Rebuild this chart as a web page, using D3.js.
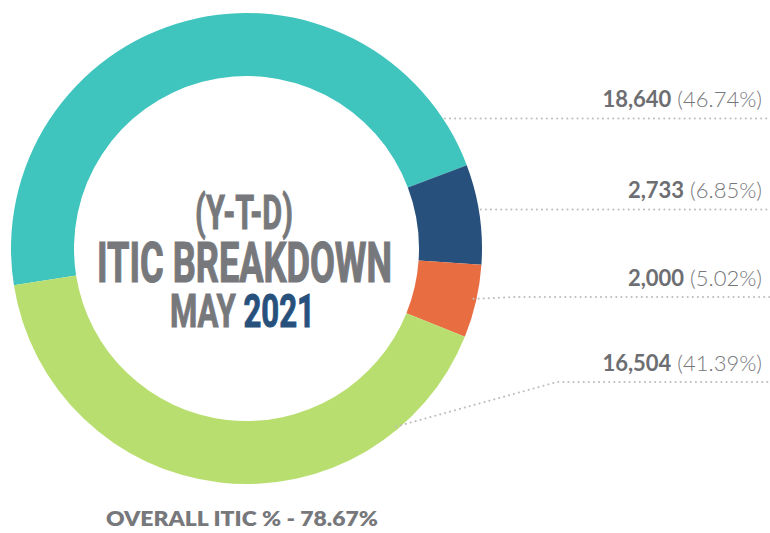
<!DOCTYPE html>
<html>
<head>
<meta charset="utf-8">
<script src="https://cdn.jsdelivr.net/npm/d3@7"></script>
<style>
  html, body { margin: 0; padding: 0; background: #ffffff; }
  svg { display: block; }
</style>
</head>
<body>
<svg id="chart" width="770" height="533"></svg>
<script>
// ---- data ----
const categories = ["Segment A", "Segment B", "Segment C", "Segment D"];
const values = [18640, 2733, 2000, 16504];
const percents = ["46.74%", "6.85%", "5.02%", "41.39%"];
const valueLabels = ["18,640", "2,733", "2,000", "16,504"];
const colors = ["#3fc4be", "#27517c", "#e86d41", "#b9de70"];
const titleLines = ["(Y-T-D)", "ITIC BREAKDOWN"];
const titleMonth = "MAY";
const titleYear = "2021";
const footerText = "OVERALL ITIC % - 78.67%";

// ---- layout ----
const W = 770, H = 533;
const cx = 246.5, cy = 248.5;
const outerR = 235.5, innerR = 172.5;
const startDeg = -99;
// label layout: y of dotted leader, optional anchor angle (deg, clockwise from 12 o'clock), kink x
const labelLineY = [118.5, 209.5, 297, 382];
const labelAnchorDeg = [null, null, 102.5, 140];
const labelKinkX = [null, null, 515, 557];
const labelRightX = 762;

const svg = d3.select("#chart");

const rad = d => d * Math.PI / 180;
const pie = d3.pie().sort(null).value(d => d)
  .startAngle(rad(startDeg)).endAngle(rad(startDeg + 360));
const arcs = pie(values);
const arc = d3.arc().innerRadius(innerR).outerRadius(outerR);

const g = svg.append("g").attr("transform", `translate(${cx},${cy})`);
g.selectAll("path.slice").data(arcs).enter().append("path")
  .attr("class", "slice")
  .attr("d", arc)
  .attr("fill", (d, i) => colors[i]);

// ---- leader lines + labels ----
const lineGen = d3.line();
values.forEach((v, i) => {
  const ly = labelLineY[i];
  let pts;
  if (labelAnchorDeg[i] === null) {
    const dy = ly - cy;
    const x0 = cx + Math.sqrt(outerR * outerR - dy * dy) + 2;
    pts = [[x0, ly], [W, ly]];
  } else {
    const a = rad(labelAnchorDeg[i]);
    const r = outerR - 3;
    const x0 = cx + r * Math.sin(a), y0 = cy - r * Math.cos(a);
    pts = [[x0, y0], [labelKinkX[i], ly], [W, ly]];
  }
  svg.append("path")
    .attr("d", lineGen(pts))
    .attr("fill", "none")
    .attr("stroke", "#bdbdbd")
    .attr("stroke-width", 2)
    .attr("stroke-linecap", "round")
    .attr("stroke-dasharray", "0.1,5");

  const t = svg.append("text")
    .attr("x", labelRightX)
    .attr("y", ly - 11.5)
    .attr("text-anchor", "end")
    .attr("font-family", "Lato, 'Open Sans', sans-serif")
    .attr("font-size", 22);
  t.append("tspan").attr("font-weight", 700).attr("fill", "#6d6e71").text(valueLabels[i]);
  t.append("tspan").attr("font-weight", 300).attr("fill", "#77787b").text(" (" + percents[i] + ")");
});

// ---- center title ----
const condensed = "Roboto, 'DejaVu Sans', sans-serif";
svg.append("text")
  .attr("x", 244).attr("y", 229)
  .attr("text-anchor", "middle")
  .attr("font-family", condensed).attr("font-weight", 700)
  .attr("font-size", 48)
  .attr("fill", "#77787b").attr("stroke", "#77787b").attr("stroke-width", 1)
  .attr("textLength", 98).attr("lengthAdjust", "spacingAndGlyphs")
  .text(titleLines[0]);

svg.append("text")
  .attr("x", 244.5).attr("y", 281.5)
  .attr("text-anchor", "middle")
  .attr("font-family", condensed).attr("font-weight", 700)
  .attr("font-size", 56)
  .attr("fill", "#77787b").attr("stroke", "#77787b").attr("stroke-width", 1.2)
  .attr("textLength", 295).attr("lengthAdjust", "spacingAndGlyphs")
  .text(titleLines[1]);

const m = svg.append("text")
  .attr("x", 242.5).attr("y", 326.5)
  .attr("text-anchor", "middle")
  .attr("font-family", condensed).attr("font-weight", 700)
  .attr("font-size", 46)
  .attr("stroke-width", 1)
  .attr("textLength", 145).attr("lengthAdjust", "spacingAndGlyphs");
m.append("tspan").attr("fill", "#77787b").attr("stroke", "#77787b").text(titleMonth + " ");
m.append("tspan").attr("fill", "#27517c").attr("stroke", "#27517c").text(titleYear);

// ---- footer ----
svg.append("text")
  .attr("x", 242).attr("y", 525.5)
  .attr("text-anchor", "middle")
  .attr("font-family", "Lato, 'Open Sans', sans-serif")
  .attr("font-weight", 800)
  .attr("font-size", 20.5)
  .attr("fill", "#77787b")
  .attr("textLength", 272).attr("lengthAdjust", "spacingAndGlyphs")
  .text(footerText);
</script>
</body>
</html>
